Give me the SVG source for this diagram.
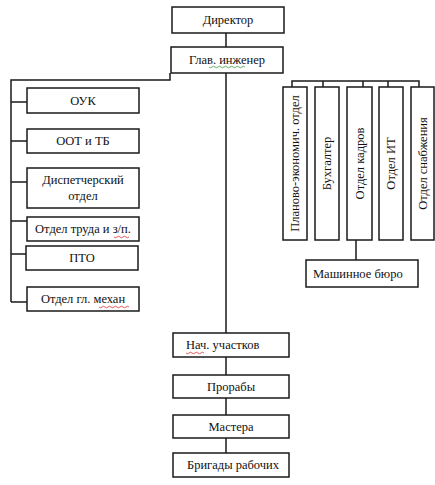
<svg xmlns="http://www.w3.org/2000/svg" width="435" height="485" viewBox="0 0 435 485">
<style>
.b{fill:#fff;stroke:#1a1a1a;stroke-width:1.5}
.l{fill:none;stroke:#1a1a1a;stroke-width:1.5}
.t{font-family:'Liberation Serif','Times New Roman','DejaVu Serif',serif;font-size:12.5px;fill:#111}
.m{text-anchor:middle}
.sq{fill:none;stroke:#d03030;stroke-width:0.8}
.sg{fill:none;stroke:#3a9a3a;stroke-width:0.8}
</style>
<rect width="435" height="485" fill="#fff"/>
<g id="connectors">
<path class="l" d="M226 33V47M226 73V333M226 357V375M226 398V415M226 438V453"/>
<path class="l" d="M170 73V80H11V302M11 102H27M11 141H27M11 182H27M11 221H27M11 254H26M11 302H27"/>
<path class="l" d="M292 87V81H419V87M323 81V87M363 81V87M388 81V87M356 240V260"/>
</g>
<g id="director"><rect class="b" x="172" y="7" width="112" height="26"/><text class="t m" x="228" y="24">Директор</text></g>
<g id="glav"><rect class="b" x="171" y="47" width="112" height="26"/><text class="t m" x="227" y="64">Глав. инженер</text><path class="sg" d="M209 67q1.5 1.5 3 0t3 0t3 0t3 0t3 0t3 0t3 0t3 0t3 0t3 0t3 0t3 0"/></g>
<g id="ouk"><rect class="b" x="27" y="88" width="112" height="25"/><text class="t m" x="83" y="105">ОУК</text></g>
<g id="oot"><rect class="b" x="27" y="129" width="112" height="24"/><text class="t m" x="83" y="145">ООТ и ТБ</text></g>
<g id="disp"><rect class="b" x="27" y="168" width="112" height="40"/><text class="t m" x="83" y="184">Диспетчерский</text><text class="t m" x="83" y="200">отдел</text></g>
<g id="trud"><rect class="b" x="27" y="217" width="112" height="24"/><text class="t m" x="83" y="233">Отдел труда и з/п.</text><path class="sq" d="M114 237q1.5 1.5 3 0t3 0t3 0t3 0t3 0"/></g>
<g id="pto"><rect class="b" x="26" y="246" width="112" height="24"/><text class="t m" x="82" y="262">ПТО</text></g>
<g id="meh"><rect class="b" x="27" y="287" width="112" height="24"/><text class="t m" x="83" y="303">Отдел гл. механ</text><path class="sq" d="M99 307q1.5 1.5 3 0t3 0t3 0t3 0t3 0t3 0t3 0t3 0t3 0t3 0"/></g>
<g id="plan"><rect class="b" x="283" y="87" width="24" height="153"/><text class="t m" transform="translate(299 163.5) rotate(-90)">Планово-экономич. отдел</text></g>
<g id="buh"><rect class="b" x="315" y="87" width="24" height="153"/><text class="t m" transform="translate(331 163.5) rotate(-90)">Бухгалтер</text></g>
<g id="kadr"><rect class="b" x="347" y="87" width="25" height="153"/><text class="t m" transform="translate(363.5 163.5) rotate(-90)">Отдел кадров</text></g>
<g id="it"><rect class="b" x="379" y="87" width="24" height="153"/><text class="t m" transform="translate(395 163.5) rotate(-90)">Отдел ИТ</text></g>
<g id="snab"><rect class="b" x="411" y="87" width="23" height="153"/><text class="t m" transform="translate(426.5 163.5) rotate(-90)">Отдел снабжения</text></g>
<g id="mash"><rect class="b" x="306" y="260" width="112" height="27"/><text class="t" x="313" y="278">Машинное бюро</text></g>
<g id="nach"><rect class="b" x="173" y="333" width="116" height="24"/><text class="t" x="186" y="349">Нач. участков</text><path class="sq" d="M186 353q1.5 1.5 3 0t3 0t3 0t3 0t3 0t3 0"/></g>
<g id="prorab"><rect class="b" x="173" y="375" width="116" height="23"/><text class="t m" x="231" y="391">Прорабы</text></g>
<g id="master"><rect class="b" x="173" y="415" width="116" height="23"/><text class="t m" x="231" y="431">Мастера</text></g>
<g id="brig"><rect class="b" x="173" y="453" width="116" height="24"/><text class="t m" x="233" y="469">Бригады рабочих</text></g>
</svg>
